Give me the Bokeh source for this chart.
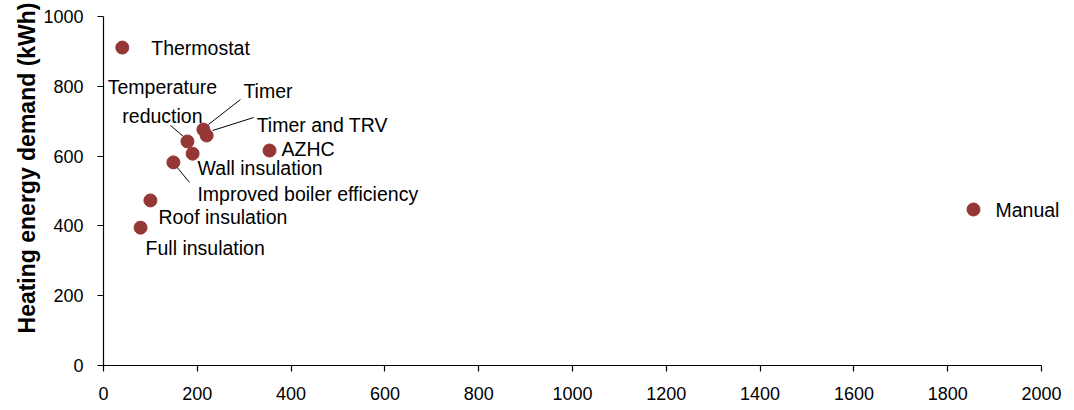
import math
from bokeh.plotting import figure
from bokeh.models import Range1d, SingleIntervalTicker, Title, ColumnDataSource
from bokeh.core.properties import value
from bokeh.embed import file_html
from bokeh.resources import INLINE

# ---- data ----
names = ["Thermostat", "Temperature\nreduction", "Timer", "Timer and TRV", "AZHC",
         "Wall insulation", "Improved boiler efficiency", "Roof insulation",
         "Full insulation", "Manual"]
cost = [40, 179, 213, 220, 354, 190, 149, 100, 79, 1855]
demand = [911, 642, 676, 659, 616, 607, 582, 473, 395, 447]

# label offsets in screen pixels (style)
lab_dx = [29, -25, 40, 50, 12, 5, 24, 8, 5, 22]
lab_dy = [0, -40, -39, -11, -2, 14, 32, 17, 20, 1]
lab_align = ["left", "center", "left", "left", "left", "left", "left", "left", "left", "left"]

# leader lines: index of point, start offset, end offset (pixels)
leaders = [(2, 5, -5, 37, -30), (3, 6, -5, 47, -18), (1, -4, -5, -17, -16), (6, 3, 4, 16, 20)]

FONT = "Liberation Sans"
RED = "#953735"

XMAX, YMAX = 2000, 1000
PX_PER_X = 938 / XMAX
EXTRA = 25  # px of frame beyond the axis end so labels are not clipped
FW, FH = 938 + EXTRA, 349

p = figure(frame_width=FW, frame_height=FH, output_backend="svg", toolbar_location=None,
           x_range=Range1d(0, XMAX + EXTRA / PX_PER_X), y_range=Range1d(0, YMAX),
           min_border_left=103, min_border_right=0, min_border_top=16, min_border_bottom=41)
p.outline_line_color = None
p.xgrid.visible = False
p.ygrid.visible = False
p.background_fill_color = "white"
p.border_fill_color = "white"

p.xaxis.ticker = SingleIntervalTicker(interval=200)
p.yaxis.ticker = SingleIntervalTicker(interval=200)
p.xaxis.bounds = (0, XMAX)
for ax in (p.xaxis, p.yaxis):
    ax.axis_line_color = "black"
    ax.axis_line_width = 1.2
    ax.major_tick_line_color = "black"
    ax.major_tick_line_width = 1.2
    ax.major_tick_in = 0
    ax.major_tick_out = 6
    ax.minor_tick_line_color = None
    ax.major_label_text_font = FONT
    ax.major_label_text_font_size = "18px"
    ax.major_label_text_color = "black"
p.yaxis.major_label_standoff = 14
p.xaxis.major_label_standoff = 15

t = Title(text="Heating energy demand (kWh)", text_font=FONT, text_font_size="23px",
          text_font_style="bold", text_color="black", align="right", offset=-14, standoff=2)
p.add_layout(t, "left")

sx = 1 / PX_PER_X
sy = YMAX / FH
x0 = [cost[i] + a * sx for i, a, b, c, d in leaders]
y0 = [demand[i] - b * sy for i, a, b, c, d in leaders]
x1 = [cost[i] + c * sx for i, a, b, c, d in leaders]
y1 = [demand[i] - d * sy for i, a, b, c, d in leaders]
p.segment(x0=x0, y0=y0, x1=x1, y1=y1, line_color="black", line_width=1)

src = ColumnDataSource(dict(x=cost, y=demand, name=names, dx=lab_dx, dy=lab_dy, al=lab_align))
p.scatter("x", "y", source=src, size=13, fill_color=RED, line_color=RED)
p.text("x", "y", text="name", source=src, x_offset="dx", y_offset="dy", text_align="al",
       text_baseline="middle", text_font=value(FONT), text_font_size="19.5px",
       text_color="black", text_line_height=1.3)

open("out.html", "w").write(file_html(p, INLINE))
